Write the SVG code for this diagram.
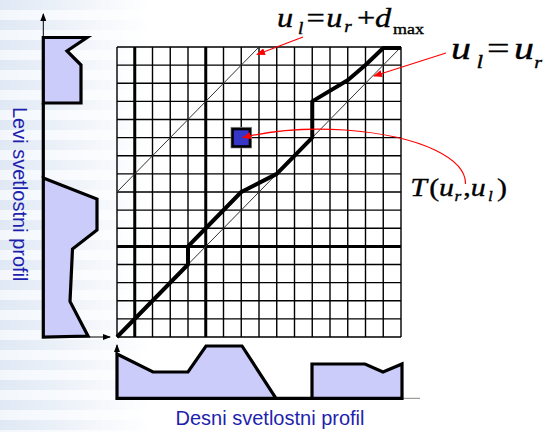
<svg xmlns="http://www.w3.org/2000/svg" width="543" height="432" viewBox="0 0 543 432">
<defs>
<style>
.grid{stroke:#000;stroke-width:1.4;fill:none}
.gthick{stroke:#000;stroke-width:3;fill:none}
.diag{stroke:#333;stroke-width:1;fill:none}
.path{stroke:#000;stroke-width:4;fill:none;stroke-linejoin:round}
.prof{fill:#ccccfa;stroke:#000;stroke-width:3.2;stroke-linejoin:miter}
.axis{stroke:#000;stroke-width:1;fill:none}
.red{stroke:#f00;stroke-width:1.2;fill:none}
.lbl{font-family:"Liberation Sans",Arial,sans-serif;font-size:20px;fill:#1f1fae}
.m{font-family:"Liberation Serif","Times New Roman",serif;font-style:italic;fill:#000;stroke:#000;stroke-width:0.35}
.mu{font-family:"Liberation Serif","Times New Roman",serif;font-style:normal;fill:#000;stroke:#000;stroke-width:0.35}
</style>
<marker id="ra" markerWidth="9" markerHeight="7" refX="8" refY="3.5" orient="auto" markerUnits="userSpaceOnUse">
<path d="M0,0 L9,3.5 L0,7 z" fill="#f00"/>
</marker>
<marker id="ka" markerWidth="8" markerHeight="6" refX="7" refY="3" orient="auto" markerUnits="userSpaceOnUse">
<path d="M0,0 L8,3 L0,6 z" fill="#000"/>
</marker>
<pattern id="stripes" width="20" height="20" patternUnits="userSpaceOnUse">
<rect width="20" height="20" fill="#f3f7fc"/>
<rect y="0" width="20" height="10" fill="#dfe8f4"/>
</pattern>
<linearGradient id="fadeG" x1="0" x2="1" y1="0" y2="0">
<stop offset="0" stop-color="#fff" stop-opacity="1"/>
<stop offset="1" stop-color="#fff" stop-opacity="0"/>
</linearGradient>
<mask id="fade">
<rect x="0" y="0" width="150" height="432" fill="url(#fadeG)"/>
</mask>
</defs>
<rect width="543" height="432" fill="#fff"/>
<rect x="0" y="0" width="150" height="432" fill="url(#stripes)" mask="url(#fade)"/>

<g id="grid">
<path class="grid" d="M117,47V337M152.5,47V337M170.25,47V337M188,47V337M223.5,47V337M241.25,47V337M259,47V337M276.75,47V337M294.5,47V337M312.25,47V337M330,47V337M347.75,47V337M365.5,47V337M383.25,47V337M401,47V337"/>
<path class="grid" d="M117,47H401M117,65.125H401M117,83.25H401M117,101.375H401M117,119.5H401M117,137.625H401M117,155.75H401M117,173.875H401M117,192H401M117,210.125H401M117,228.25H401M117,264.5H401M117,282.625H401M117,300.75H401M117,318.875H401M117,337H401"/>
<path class="gthick" d="M134.75,47V337M205.75,47V337M117,246.375H401"/>
</g>

<g id="diagonals">
<line class="diag" x1="117" y1="192" x2="259" y2="47"/>
<line class="diag" x1="117" y1="337" x2="401" y2="47"/>
</g>

<g id="disparity-path">
<polyline class="path" points="117,337 188,264.5 188,246.4 205.75,228.25 241.25,192 276.75,173.9 312.25,137.6 312.25,101.4 348,80 365.5,65 383.25,48 401,48"/>
</g>

<g id="cell">
<rect x="231" y="127.4" width="20.5" height="20.5" fill="none" stroke="#999" stroke-width="1"/>
<rect x="232.5" y="129" width="17.5" height="17.5" fill="#3535c8" stroke="#000" stroke-width="2.6"/>
</g>

<g id="left-profile">
<line class="axis" x1="43.3" y1="337" x2="43.3" y2="14" marker-end="url(#ka)"/>
<line class="axis" x1="43.3" y1="337" x2="110" y2="337" marker-end="url(#ka)"/>
<polygon class="prof" points="43.3,37.5 87,37.5 67,51 81,65 81,103 43.3,103"/>
<line x1="43.3" y1="103" x2="43.3" y2="178" stroke="#000" stroke-width="3.2"/>
<polygon class="prof" points="43.3,178 97,199 97,230 72.5,249 70,301.5 88,336 43.3,337"/>
<text class="lbl" transform="translate(13,107) rotate(90)">Levi svetlostni profil</text>
</g>

<g id="bottom-profile">
<line class="axis" x1="117" y1="398.3" x2="117" y2="345" marker-end="url(#ka)"/>
<line x1="117" y1="398.3" x2="420" y2="398.3" stroke="#888" stroke-width="1"/>
<polygon class="prof" points="117,354 153,372 188,372 206,346 242,346 276,398.3 312,398.3 312,364 365,364 383,372 402,364 402,398.3 117,398.3"/>
<text class="lbl" x="270" y="425" text-anchor="middle">Desni svetlostni profil</text>
</g>

<g id="label-dmax">
<g transform="translate(277,27) scale(1.2,1)">
<text class="m" x="0" y="0" font-size="27">u</text>
<text class="m" x="17.5" y="7" font-size="16">l</text>
<text class="mu" x="24.5" y="0" font-size="27">=</text>
<text class="m" x="41" y="0" font-size="27">u</text>
<text class="m" x="56" y="5" font-size="16">r</text>
<text class="mu" x="66.7" y="0" font-size="27">+</text>
<text class="m" x="81.7" y="0" font-size="27">d</text>
<text class="mu" x="96.7" y="7" font-size="15">max</text>
</g>
</g>

<g id="label-eq">
<g transform="translate(451,58.5) scale(1.25,1)">
<text class="m" x="0" y="0" font-size="32">u</text>
<text class="m" x="20.5" y="9" font-size="19">l</text>
<text class="mu" x="28.8" y="0" font-size="32">=</text>
<text class="m" x="50.5" y="0" font-size="32">u</text>
<text class="m" x="66.6" y="9" font-size="16">r</text>
</g>
</g>

<g id="label-T">
<g transform="translate(412,195.5) scale(1.15,1)">
<text class="m" x="-1.5" y="0" font-size="26">T</text>
<text class="mu" x="15" y="0" font-size="26">(</text>
<text class="m" x="23.5" y="0" font-size="26">u</text>
<text class="m" x="37" y="5" font-size="15">r</text>
<text class="mu" x="44.5" y="0" font-size="26">,</text>
<text class="m" x="51" y="0" font-size="26">u</text>
<text class="m" x="66" y="5" font-size="15">l</text>
<text class="mu" x="73.9" y="0" font-size="26">)</text>
</g>
</g>

<g id="connectors">
<line class="red" x1="303" y1="37" x2="257" y2="54.5" marker-end="url(#ra)"/>
<line class="red" x1="446" y1="53" x2="374" y2="76" marker-end="url(#ra)"/>
<path class="red" d="M465.5,184 C466,160 425,136 345,130 C300,127 270,131 243,137.5" marker-end="url(#ra)"/>
</g>
</svg>
